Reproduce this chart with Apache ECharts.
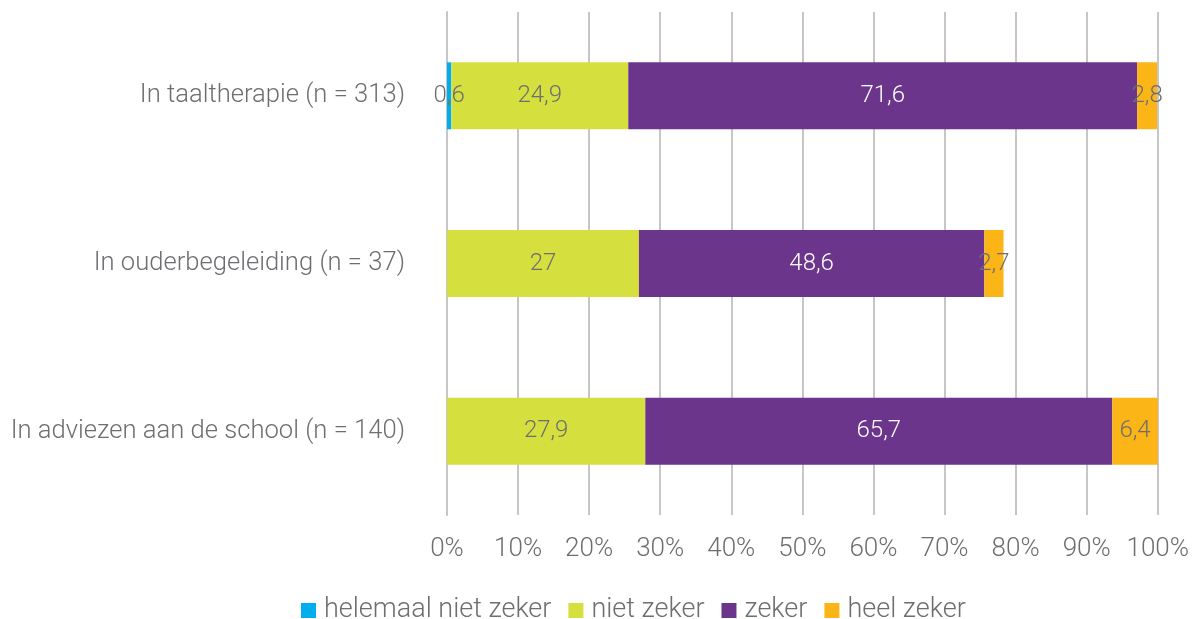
<!DOCTYPE html>
<html>
<head>
<meta charset="utf-8">
<script src="https://cdn.jsdelivr.net/npm/echarts@6/dist/echarts.min.js"></script>
<style>html,body{margin:0;padding:0;background:#fff}#c{width:1192px;height:619px}</style>
</head>
<body>
<div id="c"></div>
<script>
const categories = ["In taaltherapie (n = 313)", "In ouderbegeleiding (n = 37)", "In adviezen aan de school (n = 140)"];
const seriesNames = ["helemaal niet zeker", "niet zeker", "zeker", "heel zeker"];
const helemaalNietZeker = [0.6, null, null];
const nietZeker = [24.9, 27, 27.9];
const zeker = [71.6, 48.6, 65.7];
const heelZeker = [2.8, 2.7, 6.4];
const xTicks = [0, 10, 20, 30, 40, 50, 60, 70, 80, 90, 100];

const colors = ["#00AEEF", "#D5DF3D", "#6C358C", "#FBB516"];
const labelColors = ["#6d6e71", "#6d6e71", "#ffffff", "#6d6e71"];
const values = [helemaalNietZeker, nietZeker, zeker, heelZeker];
const FONT = "Roboto";
const TXT = '#6d6e71';

const chart = echarts.init(document.getElementById('c'), null, {renderer: 'canvas'});
chart.setOption({
  animation: false,
  textStyle: {fontFamily: FONT},
  grid: {left: 447, right: 34, top: 12, bottom: 104, containLabel: false},
  legend: {
    top: 597, left: 301, padding: 0,
    itemWidth: 15, itemHeight: 15, itemGap: 17,
    icon: 'rect',
    textStyle: {fontSize: 27, color: TXT, fontFamily: FONT, fontWeight: 300, padding: [0, 0, 0, 3]},
    data: seriesNames
  },
  xAxis: {
    type: 'value', min: 0, max: 100, interval: 10,
    axisLine: {show: false}, axisTick: {show: false},
    splitLine: {show: true, lineStyle: {color: '#c6c6c8', width: 2}},
    axisLabel: {
      margin: 21, fontSize: 26, color: TXT, fontWeight: 300, fontFamily: FONT,
      formatter: v => xTicks.includes(v) ? v + '%' : ''
    }
  },
  yAxis: {
    type: 'category', data: categories, inverse: true,
    axisLine: {show: true, lineStyle: {color: '#c6c6c8', width: 2}},
    axisTick: {show: false},
    axisLabel: {margin: 42, fontSize: 25.6, color: TXT, fontWeight: 300, fontFamily: FONT}
  },
  series: seriesNames.map((n, i) => ({
    name: n, type: 'bar', stack: 'total', barWidth: 67,
    data: values[i],
    itemStyle: {color: colors[i]},
    label: {
      show: true, position: 'inside',
      fontSize: 24, fontWeight: 300, fontFamily: FONT, color: labelColors[i],
      formatter: p => (p.value == null || p.value === 0) ? '' : String(p.value).replace('.', ',')
    }
  }))
});
</script>
</body>
</html>
